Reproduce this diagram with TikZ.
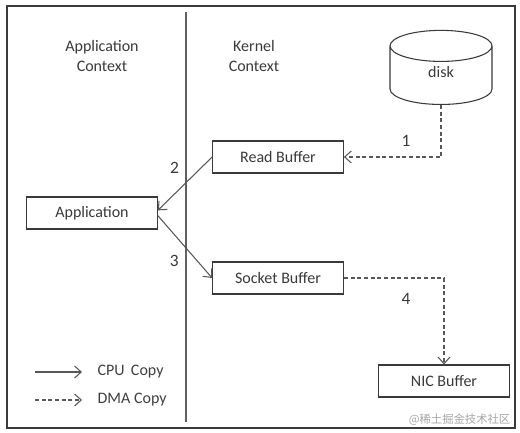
\documentclass[tikz,border=0pt]{standalone}
\usepackage{fontspec}
\setmainfont{Carlito}
\newfontfamily\cjk{Noto Sans CJK SC}
\usepackage{tikz}
\usetikzlibrary{positioning, shapes.geometric, arrows.meta}

\definecolor{ink}{HTML}{3A3A3A}

\begin{document}
\begin{tikzpicture}[x=0.75pt, y=-0.75pt,
          font=\fontsize{12}{15}\selectfont, text=ink,
          buf/.style={draw=ink, line width=0.8pt, minimum width=98pt, minimum height=24pt, inner sep=0pt},
          cpu/.style={draw=ink!85, line width=0.8pt, -{Straight Barb[length=5pt, width=9pt]}},
          dma/.style={draw=ink!85, line width=0.8pt, dashed, dash pattern=on 3pt off 2pt, -{Straight Barb[length=5pt, width=9pt]}},
          num/.style={font=\fontsize{13}{15}\selectfont},
          lbl/.style={align=center}
        ]
        \fill[white] (0,0) rectangle (520,432);
        \useasboundingbox (0,0) rectangle (520,432);
        \draw[ink, line width=1.6pt] (7,6) rectangle (515,428);
        \draw[ink!80, line width=0.8pt] (186,12) -- (186,422);
        % contexts
        \node[lbl] (app ctx) at (102,56) {Application\\Context};
        \node[lbl] (krn ctx) at (254,56) {Kernel\\Context};
        % buffers
        \node[cylinder, shape border rotate=90, aspect=0.9, draw=ink, line width=0.8pt,
              minimum width=76.5pt, minimum height=51pt, anchor=south] (disk) at (441,105) {\raisebox{10pt}{disk}};
        \node[buf] (rb) at (278,157) {Read Buffer};
        \node[buf] (app) at (92,213) {Application};
        \node[buf] (sb) at (278,278) {Socket Buffer};
        \node[buf] (nic) at (444,381) {NIC Buffer};
        % copies
        \draw[dma] (disk.south) |- (rb.east) node[num, pos=0.68, above=4pt] {1};
        \draw[cpu] (rb.west) -- ([yshift=2pt]app.east) node[num, pos=0.2, left=13pt] {2};
        \draw[cpu] ([yshift=-2pt]app.east) -- (sb.west) node[num, pos=0.72, left=10pt] {3};
        \draw[dma] (sb.east) -| (nic.north) node[num, pos=0.31, below=8pt] {4};
        % legend
        \coordinate (cpu key) at (35,372);
        \coordinate (dma key) at (35,400);
        \draw[cpu] (cpu key) -- ++(47,0) node[right=8pt, black!75] {CPU\, Copy};
        \draw[dma] (dma key) -- ++(47,0) node[right=8pt, black!75] {DMA Copy};
        \node[text=black!35, font=\cjk\fontsize{8.5}{9}\selectfont, anchor=east] (mark) at (515,420) {@稀土掘金技术社区};
      \end{tikzpicture}
\end{document}
